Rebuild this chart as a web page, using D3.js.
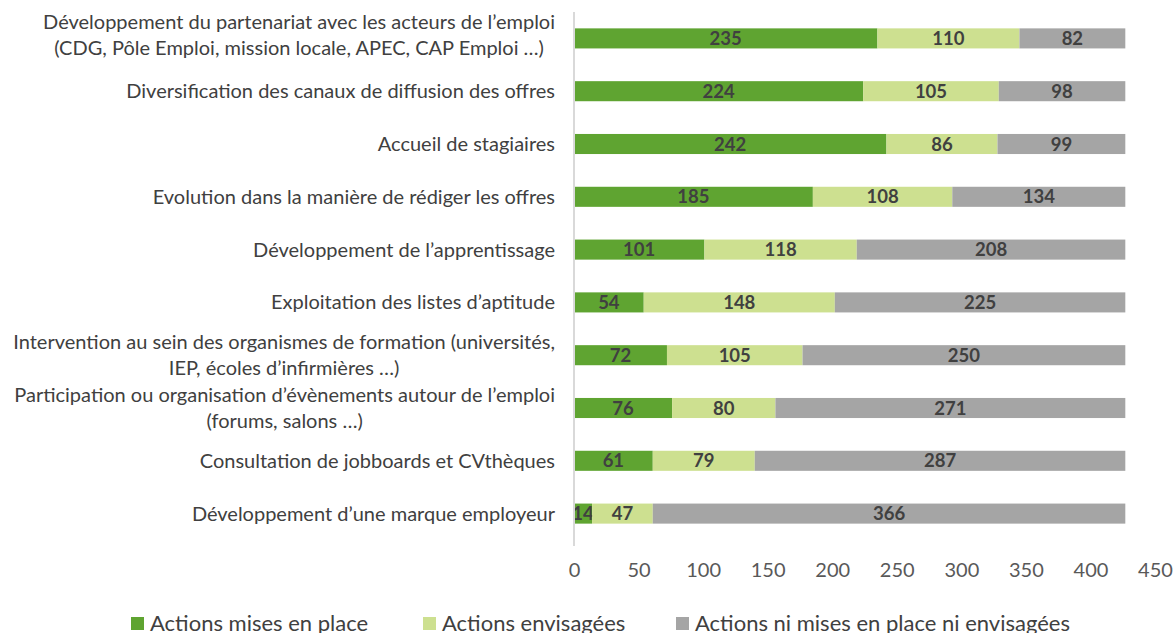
<!DOCTYPE html>
<html><head><meta charset="utf-8">
<script src="https://cdn.jsdelivr.net/npm/d3@7"></script>
<style>body{margin:0;background:#fff}svg{display:block}</style>
</head><body><svg id="c" width="1176" height="633"></svg>
<script>
const categories = [
  ["Développement du partenariat avec les acteurs de l’emploi","(CDG, Pôle Emploi, mission locale, APEC, CAP Emploi …)"],
  ["Diversification des canaux de diffusion des offres"],
  ["Accueil de stagiaires"],
  ["Evolution dans la manière de rédiger les offres"],
  ["Développement de l’apprentissage"],
  ["Exploitation des listes d’aptitude"],
  ["Intervention au sein des organismes de formation (universités,","IEP, écoles d’infirmières …)"],
  ["Participation ou organisation d’évènements autour de l’emploi","(forums, salons …)"],
  ["Consultation de jobboards et CVthèques"],
  ["Développement d’une marque employeur"]
];
const seriesNames = ["Actions mises en place","Actions envisagées","Actions ni mises en place ni envisagées"];
const misesEnPlace = [235,224,242,185,101,54,72,76,61,14];
const envisagees   = [110,105,86,108,118,148,105,80,79,47];
const niNi         = [82,98,99,134,208,225,250,271,287,366];
const ticks = [0,50,100,150,200,250,300,350,400,450];
const colors = ["#5fa431","#cde090","#a5a5a5"];

const svg = d3.select("#c");
const font = "Lato, 'Open Sans', sans-serif";
const x = d3.scaleLinear().domain([0,450]).range([574,1155]);
const y = d3.scaleBand().domain(d3.range(categories.length)).range([12,540]).paddingInner(0.62).paddingOuter(0.31);

const series = [misesEnPlace, envisagees, niNi];
const stacked = d3.stack().keys([0,1,2]).value((d,k)=>series[k][d])(d3.range(categories.length));

stacked.forEach((layer,k)=>{
  const g = svg.append("g");
  g.selectAll("rect").data(layer).enter().append("rect")
    .attr("x",d=>x(d[0])).attr("width",d=>x(d[1])-x(d[0]))
    .attr("y",(d,i)=>y(i)).attr("height",y.bandwidth())
    .attr("fill",colors[k]);
  g.selectAll("text").data(layer).enter().append("text")
    .attr("x",d=>(x(d[0])+x(d[1]))/2).attr("y",(d,i)=>y(i)+y.bandwidth()/2)
    .attr("dy","0.36em").attr("text-anchor","middle")
    .attr("font-family",font).attr("font-weight","bold").attr("font-size",18.5)
    .attr("fill","#404040").text(d=>d[1]-d[0]);
});

// vertical axis line
svg.append("line").attr("x1",574).attr("x2",574).attr("y1",12).attr("y2",546)
  .attr("stroke","#d9d9d9").attr("stroke-width",2);

// category labels
const labG = svg.append("g");
categories.forEach((lines,i)=>{
  const cy = y(i)+y.bandwidth()/2 - (lines.length>1 && i===0 ? 3 : 0);
  const lh = 26;
  const t = labG.append("text")
    .attr("font-family",font).attr("font-size",20).attr("fill","#404040");
  lines.forEach((ln,j)=>{
    t.append("tspan").attr("x",555).attr("text-anchor","end")
      .attr("y",cy + (j-(lines.length-1)/2)*lh).attr("dy","0.35em").text(ln);
  });
});
labG.selectAll("text").each(function(){
  const n = d3.select(this).selectAll("tspan").nodes();
  if(n.length===2){
    const w0 = n[0].getComputedTextLength();
    d3.select(n[1]).attr("x",555 - w0/2).attr("text-anchor","middle");
  }
});

// x axis ticks
const xAxis = d3.axisBottom(x).tickValues(ticks).tickSize(0).tickPadding(0);
const ga = svg.append("g").attr("transform","translate(0,563)").call(xAxis);
ga.select(".domain").remove();
ga.selectAll("text").attr("font-family",font).attr("font-size",20).attr("fill","#595959").attr("dy","0.71em");

// legend
const legX = [131,423,676];
seriesNames.forEach((n,k)=>{
  svg.append("rect").attr("x",legX[k]).attr("y",617).attr("width",13).attr("height",13).attr("fill",colors[k]);
  svg.append("text").attr("x",legX[k]+19).attr("y",623).attr("dy","0.35em")
    .attr("font-family",font).attr("font-size",22).attr("fill","#404040").text(n);
});
</script></body></html>
